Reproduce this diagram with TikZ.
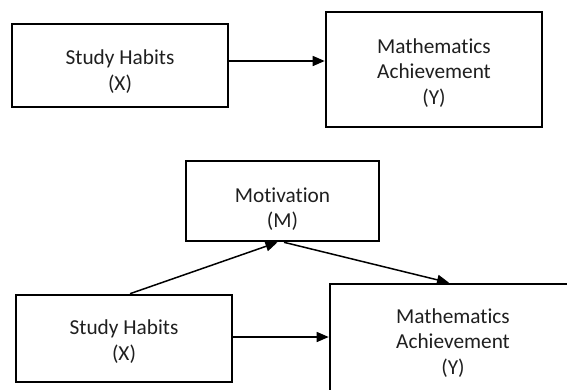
\documentclass[tikz,border=0pt]{standalone}
\usepackage{fontspec}
\setmainfont{Carlito}[Ligatures={NoCommon,NoContextual}]
\usetikzlibrary{arrows.meta,calc}
\newcommand{\boxtxt}[2]{\raisebox{-#1}[\height][\depth]{\begin{tabular}{@{}c@{}}#2\end{tabular}}}
\begin{document}
\begin{tikzpicture}[x=1pt,y=-1pt,
  box/.style={draw=black, line width=2.6pt, inner sep=0pt, align=center,
    font=\fontsize{21.3}{25.5}\selectfont, text=black!88},
  arr/.style={line width=1.5pt, -{Triangle[length=12pt,width=10pt]}}]
\useasboundingbox (0,0) rectangle (567,389);
\fill[white] (0,0) rectangle (567,389);
\renewcommand{\arraystretch}{1}
% top diagram
\node[box, minimum width=216pt, minimum height=83pt] (x1) at (120,65.5) {\boxtxt{7pt}{Study Habits\\(X)}};
\node[box, minimum width=216pt, minimum height=115pt] (y1) at (434,69.5) {\boxtxt{4pt}{Mathematics\\Achievement\\(Y)}};
\draw[arr] ([yshift=4.5pt]x1.east) -- ([yshift=4.5pt]x1.east -| y1.west);
% bottom diagram
\node[box, minimum width=193pt, minimum height=80pt] (m) at (282.5,201) {\boxtxt{9pt}{Motivation\\(M)}};
\node[box, minimum width=216pt, minimum height=87pt] (x2) at (124,338.5) {\boxtxt{4pt}{Study Habits\\(X)}};
\node[box, minimum width=246pt, minimum height=118pt] (y2) at (453,343) {\boxtxt{0.5pt}{Mathematics\\Achievement\\(Y)}};
\draw[arr] ([yshift=1.5pt]x2.east) -- ([yshift=1.5pt]x2.east -| y2.west);
\draw[arr] ([xshift=6pt]x2.north) -- ([xshift=-5pt]m.south);
\draw[arr] ([xshift=1.5pt]m.south) -- ([xshift=-4pt]y2.north);
\end{tikzpicture}
\end{document}
